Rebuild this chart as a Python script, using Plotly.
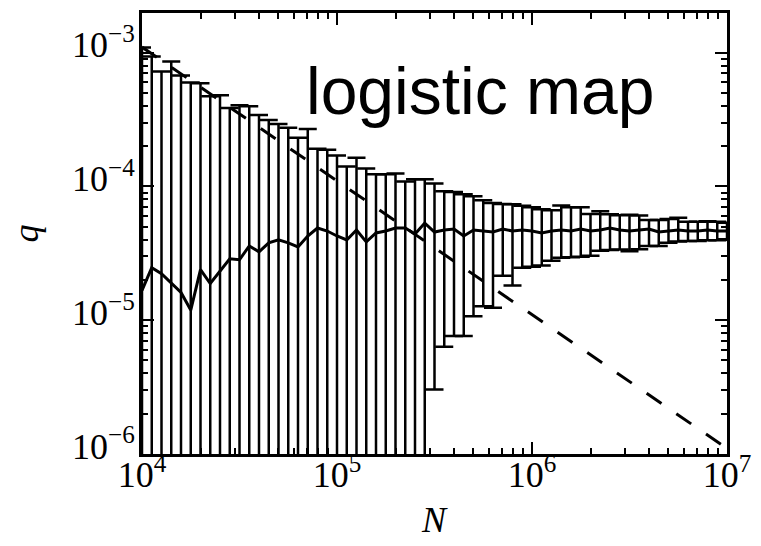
import numpy as np
import plotly.graph_objects as go

# Sample sizes: 20 per decade from 1e4 to 1e7
N = np.logspace(4, 7, 61)

# Central estimate of q at each N
q_mean = [
    1.67e-5, 2.47e-5, 2.23e-5, 1.88e-5, 1.61e-5, 1.19e-5, 2.39e-5, 1.88e-5, 2.35e-5, 2.88e-5,
    2.83e-5, 3.59e-5, 3.24e-5, 3.78e-5, 3.98e-5, 3.78e-5, 3.53e-5, 4.26e-5, 4.89e-5, 4.64e-5,
    4.26e-5, 3.98e-5, 4.72e-5, 3.85e-5, 4.49e-5, 4.64e-5, 4.89e-5, 4.89e-5, 4.41e-5, 5.32e-5,
    4.56e-5, 4.72e-5, 4.80e-5, 4.26e-5, 4.72e-5, 4.64e-5, 4.56e-5, 4.80e-5, 4.64e-5, 4.72e-5,
    4.64e-5, 4.49e-5, 4.64e-5, 4.72e-5, 4.64e-5, 4.80e-5, 4.64e-5, 4.72e-5, 4.89e-5, 4.72e-5,
    4.64e-5, 4.72e-5, 4.80e-5, 4.56e-5, 4.64e-5, 4.72e-5, 4.64e-5, 4.64e-5, 4.72e-5, 4.64e-5,
    4.64e-5,
]

# Upper end of the spread
q_upper = [
    1.09e-3, 9.34e-4, 7.23e-4, 8.58e-4, 6.75e-4, 5.99e-4, 5.89e-4, 4.72e-4, 4.80e-4, 3.85e-4,
    4.05e-4, 3.98e-4, 3.41e-4, 3.14e-4, 2.93e-4, 2.74e-4, 2.31e-4, 2.69e-4, 1.91e-4, 1.88e-4,
    1.70e-4, 1.41e-4, 1.64e-4, 1.36e-4, 1.23e-4, 1.23e-4, 1.25e-4, 1.09e-4, 1.13e-4, 1.13e-4,
    1.05e-4, 9.18e-5, 9.10e-5, 8.72e-5, 8.43e-5, 7.87e-5, 7.52e-5, 7.40e-5, 7.36e-5, 7.17e-5,
    6.99e-5, 6.75e-5, 6.64e-5, 7.20e-5, 6.99e-5, 6.99e-5, 6.23e-5, 6.53e-5, 6.20e-5, 6.10e-5,
    6.15e-5, 6.05e-5, 5.60e-5, 5.60e-5, 5.70e-5, 5.82e-5, 5.44e-5, 5.44e-5, 5.50e-5, 5.44e-5,
    5.35e-5,
]

# Lower end of the spread (None: reaches zero, below the axis)
q_lower = [None] * 30 + [
    3.03e-6, 6.34e-6, 7.61e-6, 7.61e-6, 1.07e-5, 1.27e-5, 1.24e-5, 2.15e-5, 1.82e-5, 2.47e-5,
    2.51e-5, 2.56e-5, 2.78e-5, 2.93e-5, 2.95e-5, 2.98e-5, 3.03e-5, 3.30e-5, 3.34e-5, 3.38e-5,
    3.27e-5, 3.39e-5, 3.59e-5, 3.59e-5, 3.80e-5, 3.87e-5, 3.91e-5, 3.91e-5, 3.96e-5, 3.96e-5,
    4.03e-5,
]

# 1/N guide line end points
guide_N = [1e4, 1e7]
guide_q = [1.1e-3, 1.1e-6]

x_tickvals = [1e4, 1e5, 1e6, 1e7]
x_ticktext = ["10<sup>4</sup>", "10<sup>5</sup>", "10<sup>6</sup>", "10<sup>7</sup>"]
y_tickvals = [1e-6, 1e-5, 1e-4, 1e-3]
y_ticktext = ["10<sup>−6</sup>", "10<sup>−5</sup>", "10<sup>−4</sup>", "10<sup>−3</sup>"]

x_minor = [m * 10.0 ** d for d in range(4, 7) for m in range(2, 10)]
y_minor = [m * 10.0 ** d for d in range(-6, -2) for m in range(2, 10)]

err_plus = [u - m for u, m in zip(q_upper, q_mean)]
err_minus = [m - (lo if lo is not None else 0.0) for lo, m in zip(q_lower, q_mean)]

SERIF = "Liberation Serif"

fig = go.Figure()

fig.add_trace(go.Scatter(
    x=N, y=q_mean, mode="lines",
    line=dict(color="black", width=3),
    error_y=dict(type="data", symmetric=False, array=err_plus, arrayminus=err_minus,
                 color="black", thickness=2.5, width=9),
    hoverinfo="skip",
))

fig.add_trace(go.Scatter(
    x=guide_N, y=guide_q, mode="lines",
    line=dict(color="black", width=3, dash="18px,18px"),
    hoverinfo="skip",
))

axis_common = dict(
    type="log",
    showline=True, linecolor="black", linewidth=3, mirror="ticks",
    ticks="inside", ticklen=12, tickwidth=2, tickcolor="black",
    showgrid=False, zeroline=False,
    tickfont=dict(family=SERIF, size=36, color="black"),
)

fig.update_xaxes(
    **axis_common,
    range=[4, 7],
    tickmode="array", tickvals=x_tickvals, ticktext=x_ticktext,
    minor=dict(tickmode="array", tickvals=x_minor, ticks="inside", ticklen=6,
               tickwidth=1.5, tickcolor="black", showgrid=False),
    ticklabelstandoff=-13,
)
fig.update_yaxes(
    **axis_common,
    range=[-6, -2.704],
    tickmode="array", tickvals=y_tickvals, ticktext=y_ticktext,
    minor=dict(tickmode="array", tickvals=y_minor, ticks="inside", ticklen=6,
               tickwidth=1.5, tickcolor="black", showgrid=False),
    ticklabelstandoff=-3,
    ticklabelshift=-8,
)

fig.add_annotation(
    text="logistic map", xref="paper", yref="paper", x=0.577, y=0.824,
    xanchor="center", yanchor="middle", showarrow=False,
    font=dict(family="Liberation Sans", size=66, color="black"),
)
fig.add_annotation(
    text="q", xref="paper", yref="paper", x=-0.2, y=0.5,
    xanchor="center", yanchor="middle", textangle=-90, showarrow=False,
    font=dict(family=SERIF, size=36, color="black", style="italic"),
)
fig.add_annotation(
    text="N", xref="paper", yref="paper", x=0.5, y=-0.149,
    xanchor="center", yanchor="middle", showarrow=False,
    font=dict(family=SERIF, size=36, color="black", style="italic"),
)

fig.update_layout(
    width=761, height=546,
    margin=dict(l=142, r=28, t=10, b=92),
    plot_bgcolor="white", paper_bgcolor="white",
    showlegend=False,
)

fig.write_html("out.html")
